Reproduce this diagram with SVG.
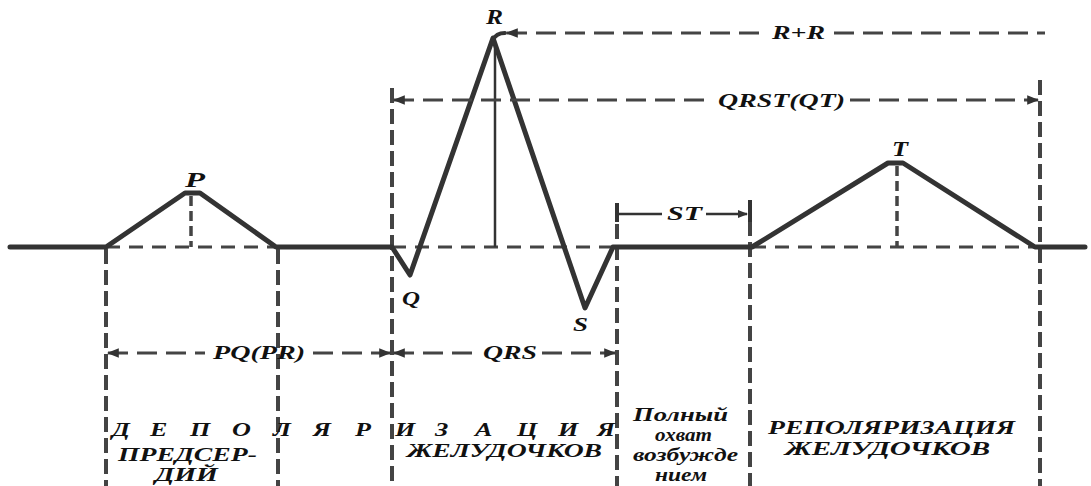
<svg xmlns="http://www.w3.org/2000/svg" width="1091" height="486" viewBox="0 0 1091 486">
<defs>
<marker id="ar" viewBox="0 0 10 10" refX="9" refY="5" markerWidth="4" markerHeight="4" orient="auto-start-reverse" markerUnits="strokeWidth">
<path d="M0,1 L10,5 L0,9 z" fill="#333"/>
</marker>
</defs>
<style>
.ecg{fill:none;stroke:#333;stroke-width:5;stroke-linejoin:round;stroke-linecap:round}
.vd{fill:none;stroke:#444;stroke-width:4;stroke-dasharray:15 6}
.hd{fill:none;stroke:#444;stroke-width:3;stroke-dasharray:20 9}
.bd{fill:none;stroke:#444;stroke-width:3;stroke-dasharray:14 9}
.sl{fill:none;stroke:#333;stroke-width:2.5}
.tick{fill:none;stroke:#333;stroke-width:4}
.t{font-family:"Liberation Serif","DejaVu Serif","Times New Roman",serif;font-weight:bold;font-style:italic;fill:#111}
.lb{font-size:20px}
.sm{font-size:18px}
.bt{font-size:18px}
</style>
<rect width="1091" height="486" fill="#fff"/>

<g id="guides">
<line class="vd" x1="106" y1="249" x2="106" y2="486"/>
<line class="vd" x1="278" y1="249" x2="278" y2="486"/>
<line class="vd" x1="392" y1="88" x2="392" y2="486"/>
<line class="vd" x1="617" y1="203" x2="617" y2="486"/>
<line class="vd" x1="750" y1="200" x2="750" y2="486"/>
<line class="vd" x1="1040" y1="80" x2="1040" y2="486"/>
<line class="bd" x1="106" y1="247" x2="276" y2="247"/>
<line class="bd" x1="392" y1="247" x2="613" y2="247"/>
<line class="bd" x1="752" y1="247" x2="1035" y2="247"/>
<line class="bd" x1="191" y1="196" x2="191" y2="247" style="stroke-dasharray:10 5;stroke-width:3.5"/>
<line class="bd" x1="897" y1="166" x2="897" y2="247" style="stroke-dasharray:10 5;stroke-width:3.5"/>
<line class="sl" x1="495" y1="42" x2="495" y2="247"/>
</g>

<g id="ecg">
<polyline class="ecg" points="10,247 106,247 185,193 200,193 276,247 392,247 410,275 493,38 585,308 613,247 752,247 888,163 903,163 1035,247 1085,247"/>
<path class="ecg" d="M493,40 Q496,33 505,33" style="stroke-width:4"/>
</g>

<g id="connectors">
<line class="hd" x1="507" y1="33" x2="765" y2="33" marker-start="url(#ar)"/>
<line class="hd" x1="834" y1="33" x2="1045" y2="33"/>
<line class="hd" x1="394" y1="100" x2="713" y2="100" marker-start="url(#ar)"/>
<line class="hd" x1="850" y1="100" x2="1038" y2="100" marker-end="url(#ar)"/>
<line class="tick" x1="617" y1="203" x2="617" y2="222"/>
<line class="tick" x1="750" y1="200" x2="750" y2="222"/>
<line class="sl" x1="619" y1="214" x2="662" y2="214"/>
<line class="sl" x1="706" y1="214" x2="747" y2="214" marker-end="url(#ar)"/>
<line class="hd" x1="108" y1="353" x2="205" y2="353" marker-start="url(#ar)"/>
<line class="hd" x1="313" y1="353" x2="390" y2="353" marker-end="url(#ar)"/>
<line class="hd" x1="394" y1="353" x2="478" y2="353" marker-start="url(#ar)"/>
<line class="hd" x1="542" y1="353" x2="615" y2="353" marker-end="url(#ar)"/>
</g>

<g id="labels" class="t">
<text class="lb" x="185" y="187" textLength="20" lengthAdjust="spacingAndGlyphs">P</text>
<text class="lb" x="486" y="24" textLength="17" lengthAdjust="spacingAndGlyphs">R</text>
<text class="lb" x="892" y="156" textLength="16" lengthAdjust="spacingAndGlyphs">T</text>
<text class="sm" x="402" y="305" textLength="18" lengthAdjust="spacingAndGlyphs">Q</text>
<text class="sm" x="573" y="331" textLength="15" lengthAdjust="spacingAndGlyphs">S</text>
<text class="sm" x="772" y="39" textLength="53" lengthAdjust="spacingAndGlyphs">R+R</text>
<text class="sm" x="718" y="107" textLength="127" lengthAdjust="spacingAndGlyphs">QRST(QT)</text>
<text class="sm" x="667" y="220" textLength="35" lengthAdjust="spacingAndGlyphs">ST</text>
<text class="sm" x="213" y="359" textLength="92" lengthAdjust="spacingAndGlyphs">PQ(PR)</text>
<text class="sm" x="483" y="359" textLength="54" lengthAdjust="spacingAndGlyphs">QRS</text>
</g>

<g id="phases" class="t">
<g transform="scale(1.45 1)">
<text class="bt" y="436" x="77.2 103.4 131 160 188.3 215.9 244.8 272.4 300 327.6 356.6 384.8 411.7">ДЕПОЛЯРИЗАЦИЯ</text>
</g>
<text class="bt" x="118" y="461" textLength="139" lengthAdjust="spacingAndGlyphs">ПРЕДСЕР-</text>
<text class="bt" x="155" y="481" textLength="63" lengthAdjust="spacingAndGlyphs">ДИЙ</text>
<text class="bt" x="407" y="457" textLength="195" lengthAdjust="spacingAndGlyphs">ЖЕЛУДОЧКОВ</text>
<text class="bt" x="633" y="421" textLength="95" lengthAdjust="spacingAndGlyphs">Полный</text>
<text class="bt" x="655" y="441" textLength="57" lengthAdjust="spacingAndGlyphs">охват</text>
<text class="bt" x="633" y="461" textLength="105" lengthAdjust="spacingAndGlyphs">возбужде</text>
<text class="bt" x="655" y="481" textLength="52" lengthAdjust="spacingAndGlyphs">нием</text>
<text class="bt" x="768" y="434" textLength="247" lengthAdjust="spacingAndGlyphs">РЕПОЛЯРИЗАЦИЯ</text>
<text class="bt" x="785" y="455" textLength="205" lengthAdjust="spacingAndGlyphs">ЖЕЛУДОЧКОВ</text>
</g>
</svg>
